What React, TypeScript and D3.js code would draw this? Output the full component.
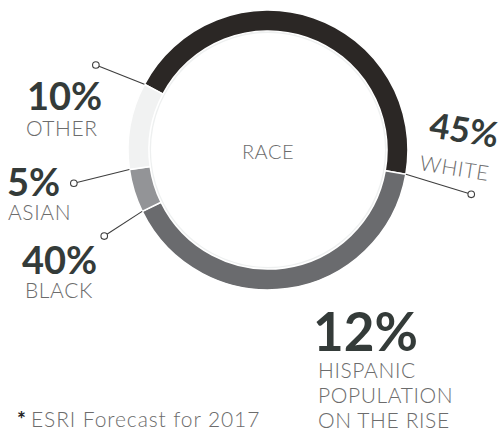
import * as d3 from "d3";
import React from "react";

// race breakdown (share of population, %)
const races = ["WHITE", "BLACK", "ASIAN", "OTHER"];
const shares = [45, 40, 5, 10];
const ringColors = ["#2b2725", "#6a6b6e", "#939497", "#f1f2f2"];
// how far out each leader line reaches (px from the centre)
const leaderReach = [208, 185, 197, 192];

const hispanicShare = 12;
const hispanicLines = ["HISPANIC", "POPULATION", "ON THE RISE"];
const centerTitle = "RACE";
const footnote = "ESRI Forecast for 2017";

const W = 504;
const H = 433;
const cx = 268;
const cy = 150;
const rOuter = 140;
const rInner = 119;
const startDeg = -62;

const pctFont = "Lato, 'Open Sans', sans-serif";
const pctColor = "#343b39";
const lblColor = "#6c6c6c";

// label placement, in the order of races
const labelPos = [
  { x: 428, y: 137, rot: 9, size: 35, dx: -4, dy: 34 },
  { x: 22, y: 274, rot: 0, size: 38, dx: 3, dy: 24 },
  { x: 7, y: 196, rot: 0, size: 38, dx: 1, dy: 24 },
  { x: 27, y: 110, rot: 0, size: 38, dx: -1, dy: 26 },
];

export default function App() {
  const pie = d3
    .pie<number>()
    .sort(null)
    .value((d) => d)
    .startAngle((startDeg * Math.PI) / 180)
    .endAngle(((startDeg + 360) * Math.PI) / 180);
  const arcs = pie(shares);
  const arc = d3.arc<d3.PieArcDatum<number>>().innerRadius(rInner).outerRadius(rOuter);
  const track = d3.arc()({
    innerRadius: rInner - 2,
    outerRadius: rOuter,
    startAngle: 0,
    endAngle: Math.PI * 2,
  } as any);

  const polar = (a: number, r: number) => [Math.sin(a) * r, -Math.cos(a) * r];

  return (
    <svg
      width={W}
      height={H}
      style={{ position: "absolute", left: 0, top: 0, background: "#fff" }}
    >
      <g transform={`translate(${cx},${cy})`}>
        <path d={track as string} fill="#eef0f0" />
        {arcs.map((a, i) => (
          <path key={i} d={arc(a) as string} fill={ringColors[i]} stroke="#fff" strokeWidth={1.6} />
        ))}
        {arcs.map((a, i) => {
          const [x1, y1] = polar(a.endAngle, rOuter);
          const [x2, y2] = polar(a.endAngle + (i === 0 ? 0.04 : -0.03), leaderReach[i]);
          return (
            <g key={"l" + i}>
              <line x1={x1} y1={y1} x2={x2} y2={y2} stroke="#3e3e3e" strokeWidth={1.1} />
              <circle cx={x2} cy={y2} r={3.3} fill="#fff" stroke="#3e3e3e" strokeWidth={1.1} />
            </g>
          );
        })}
        <text
          x={0}
          y={9}
          textAnchor="middle"
          fontFamily={pctFont}
          fontWeight={300}
          fontSize={20}
          fill={lblColor}
          letterSpacing={0.5}
        >
          {centerTitle}
        </text>
      </g>

      {races.map((r, i) => {
        const p = labelPos[i];
        return (
          <g key={r} transform={`translate(${p.x},${p.y}) rotate(${p.rot})`}>
            <text fontFamily={pctFont} fontWeight={700} fontSize={p.size} fill={pctColor}>
              {shares[i]}%
            </text>
            <text
              x={p.dx}
              y={p.dy}
              fontFamily={pctFont}
              fontWeight={300}
              fontSize={21}
              fill={lblColor}
              letterSpacing={0.6}
            >
              {r}
            </text>
          </g>
        );
      })}

      <text x={313} y={351} fontFamily={pctFont} fontWeight={700} fontSize={53} fill={pctColor}>
        {hispanicShare}%
      </text>
      {hispanicLines.map((t, i) => (
        <text
          key={t}
          x={318}
          y={378 + i * 25}
          fontFamily={pctFont}
          fontWeight={300}
          fontSize={21}
          fill={lblColor}
          letterSpacing={0.6}
        >
          {t}
        </text>
      ))}

      <text x={17} y={427} fontFamily={pctFont} fontSize={21} fill={lblColor}>
        <tspan fontWeight={700} fill="#222">*</tspan>
        <tspan fontWeight={300} dx={5} letterSpacing={0.9}>
          {footnote}
        </tspan>
      </text>
    </svg>
  );
}
